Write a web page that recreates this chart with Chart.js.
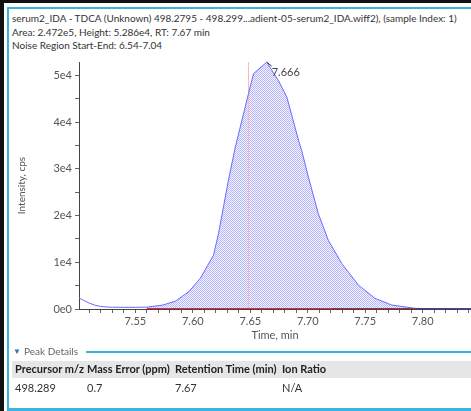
<!DOCTYPE html>
<html>
<head>
<meta charset="utf-8">
<script src="https://cdn.jsdelivr.net/npm/chart.js@4.4.1/dist/chart.umd.min.js"></script>
<style>
  html, body { margin: 0; padding: 0; background: #fff; width: 471px; height: 411px; overflow: hidden; }
  body { font-family: "Segoe UI", Lato, sans-serif; color: #333; position: relative; }
  .abs { position: absolute; }
  .hdr { font-size: 10px; line-height: 13px; white-space: nowrap; left: 12px; }
  .col { position: absolute; font-size: 11px; white-space: nowrap; }
</style>
</head>
<body>
<!-- window frame -->
<div class="abs" style="left:0;top:0;width:471px;height:3px;background:#111"></div>
<div class="abs" style="left:0;top:0;width:4px;height:411px;background:#111"></div>
<div class="abs" style="left:7px;top:7px;width:464px;height:2px;background:#3ab4dc"></div>
<div class="abs" style="left:7px;top:7px;width:2px;height:404px;background:#3ab4dc"></div>
<div class="abs" style="left:7px;top:408px;width:464px;height:3px;background:#3ab4dc"></div>

<div class="abs hdr" style="top:12px">serum2_IDA - TDCA (Unknown) 498.2795 - 498.299...adient-05-serum2_IDA.wiff2), (sample Index: 1)</div>
<div class="abs hdr" style="top:26px">Area: 2.472e5, Height: 5.286e4, RT: 7.67 min</div>
<div class="abs hdr" style="top:39px">Noise Region Start-End: 6.54-7.04</div>

<div class="abs" style="left:10px;top:50px;width:461px;height:300px">
  <canvas id="chart" width="461" height="300"></canvas>
</div>

<!-- peak details -->
<div class="abs" style="left:13px;top:346px;font-size:8px;color:#2a78b4">&#9660;</div>
<div class="abs" style="left:24px;top:345px;font-size:10px;color:#666">Peak Details</div>
<div class="abs" style="left:86px;top:351px;width:385px;height:2px;background:#3ab4dc"></div>
<div class="abs" style="left:12px;top:361px;width:459px;height:17px;background:#e6e6e6"></div>
<div id="table"></div>

<script>
// chromatogram trace (time, min / intensity, cps)
const times = [7.501, 7.505, 7.510, 7.515, 7.520, 7.525, 7.530, 7.540, 7.550, 7.560,
  7.574, 7.585, 7.5965, 7.6065, 7.618, 7.6224, 7.6267, 7.631, 7.637, 7.6484,
  7.6528, 7.6643, 7.6745, 7.6818, 7.692, 7.6946, 7.7005, 7.7092, 7.7179, 7.7295,
  7.744, 7.7585, 7.773, 7.793, 7.800, 7.810, 7.842];
const intensities = [2350, 1850, 1250, 800, 550, 420, 380, 360, 360, 400,
  850, 1700, 3700, 6560, 11500, 16200, 21900, 27600, 34700, 46100,
  50400, 52860, 48900, 45400, 36100, 34000, 28300, 20400, 14700, 9770,
  5130, 2280, 850, 150, 80, 60, 50];

const integrationStart = 7.560;
const baselineSplit = 7.720;
const integrationEnd = 7.793;
const expectedRT = 7.6485;
const peakLabel = "7.666";
const peakTime = 7.6643;
const peakHeight = 52860;

const xMin = 7.501, xMax = 7.842;
const yMin = 0, yMax = 52900;

// tick positions (minor + major) and labels
const xTickValues = [7.51, 7.52, 7.53, 7.54, 7.55, 7.56, 7.57, 7.58, 7.59, 7.60,
  7.61, 7.62, 7.63, 7.64, 7.65, 7.66, 7.67, 7.68, 7.69, 7.70,
  7.71, 7.72, 7.73, 7.74, 7.75, 7.76, 7.77, 7.78, 7.79, 7.80,
  7.81, 7.82, 7.83, 7.84];
const xTickLabels = ["7.55", "7.60", "7.65", "7.70", "7.75", "7.80"];
const yTickValues = [0, 5000, 10000, 15000, 20000, 25000, 30000, 35000, 40000, 45000, 50000];
const yTickLabels = { 0: "0e0", 10000: "1e4", 20000: "2e4", 30000: "3e4", 40000: "4e4", 50000: "5e4" };

// peak details table
const columns = ["Precursor m/z", "Mass Error (ppm)", "Retention Time (min)", "Ion Ratio"];
const rowValues = ["498.289", "0.7", "7.67", "N/A"];
const colX = [15, 87, 175, 282];

let html = "";
columns.forEach((c, i) => {
  html += `<div class="col" style="left:${colX[i]}px;top:362px;font-weight:bold;color:#222">${c}</div>`;
  html += `<div class="col" style="left:${colX[i]}px;top:381px;color:#333">${rowValues[i]}</div>`;
});
document.getElementById("table").innerHTML = html;

const FONT = "'Segoe UI', Lato, sans-serif";

const trace = times.map((t, i) => ({ x: t, y: intensities[i] }));
const area = trace.filter(p => p.x >= integrationStart && p.x <= integrationEnd);

// dotted fill like the original software
function dotPattern() {
  const c = document.createElement("canvas");
  c.width = 2; c.height = 2;
  const g = c.getContext("2d");
  g.fillStyle = "#f6f6ff";
  g.fillRect(0, 0, 2, 2);
  g.fillStyle = "#b4b4ff";
  g.fillRect(0, 0, 1, 1);
  g.fillRect(1, 1, 1, 1);
  return g.createPattern(c, "repeat");
}

const peakLabelPlugin = {
  id: "peakLabel",
  afterDatasetsDraw(chart) {
    const { ctx, scales } = chart;
    const px = scales.x.getPixelForValue(peakTime);
    const py = scales.y.getPixelForValue(peakHeight);
    ctx.save();
    ctx.strokeStyle = "#333";
    ctx.lineWidth = 1;
    ctx.beginPath();
    ctx.moveTo(px, py);
    ctx.lineTo(px + 5, py + 4);
    ctx.stroke();
    ctx.fillStyle = "#444";
    ctx.font = "11px " + FONT;
    ctx.textBaseline = "middle";
    ctx.fillText(peakLabel, px + 5, py + 10);
    ctx.restore();
  }
};

const xLabelFor = v => xTickLabels.find(l => Math.abs(parseFloat(l) - v) < 1e-6) || "";

new Chart(document.getElementById("chart"), {
  type: "line",
  data: {
    datasets: [
      { data: area, fill: "origin", backgroundColor: dotPattern(), borderWidth: 0, pointRadius: 0, order: 5 },
      { data: [{ x: expectedRT, y: yMin }, { x: expectedRT, y: yMax }], borderColor: "#ffb4b4", borderWidth: 1, pointRadius: 0, order: 4 },
      { data: trace, borderColor: "#6a6aff", borderWidth: 1, pointRadius: 0, tension: 0, order: 2 },
      { data: [{ x: integrationEnd, y: 0 }, { x: xMax, y: 0 }], borderColor: "#2a2a9a", borderWidth: 1.5, pointRadius: 0, order: 1 },
      { data: [{ x: integrationStart, y: 0 }, { x: baselineSplit, y: 0 }], borderColor: "#e8283a", borderWidth: 2, pointRadius: 0, order: 1 },
      { data: [{ x: baselineSplit, y: 0 }, { x: integrationEnd, y: 0 }], borderColor: "#b02a3a", borderWidth: 2, pointRadius: 0, order: 1 }
    ]
  },
  options: {
    responsive: false,
    animation: false,
    events: [],
    layout: { padding: { top: 12, right: 0, left: 0, bottom: 0 } },
    plugins: { legend: { display: false }, tooltip: { enabled: false } },
    scales: {
      x: {
        type: "linear",
        min: xMin, max: xMax,
        afterFit: s => { s.height = 41; },
        afterBuildTicks: s => { s.ticks = xTickValues.map(v => ({ value: v })); },
        grid: { drawOnChartArea: false, tickLength: 4, color: "#666" },
        border: { color: "#444", width: 1 },
        ticks: {
          maxRotation: 0, autoSkip: false, padding: 2,
          color: "#555", font: { family: FONT, size: 11 },
          callback: v => xLabelFor(v)
        },
        title: { display: true, text: "Time, min", color: "#555", font: { family: FONT, size: 11 }, padding: { top: 0, bottom: 8 } }
      },
      y: {
        min: yMin, max: yMax,
        afterFit: s => { s.width = 69; },
        afterBuildTicks: s => { s.ticks = yTickValues.map(v => ({ value: v })); },
        grid: { drawOnChartArea: false, tickLength: 4, color: "#666" },
        border: { color: "#444", width: 1 },
        ticks: {
          autoSkip: false, padding: 3,
          color: "#555", font: { family: FONT, size: 11 },
          callback: v => yTickLabels[Math.round(v)] || ""
        },
        title: { display: true, text: "Intensity, cps", color: "#555", font: { family: FONT, size: 10 }, padding: { top: 6, bottom: 0 } }
      }
    }
  },
  plugins: [peakLabelPlugin]
});
</script>
</body>
</html>
